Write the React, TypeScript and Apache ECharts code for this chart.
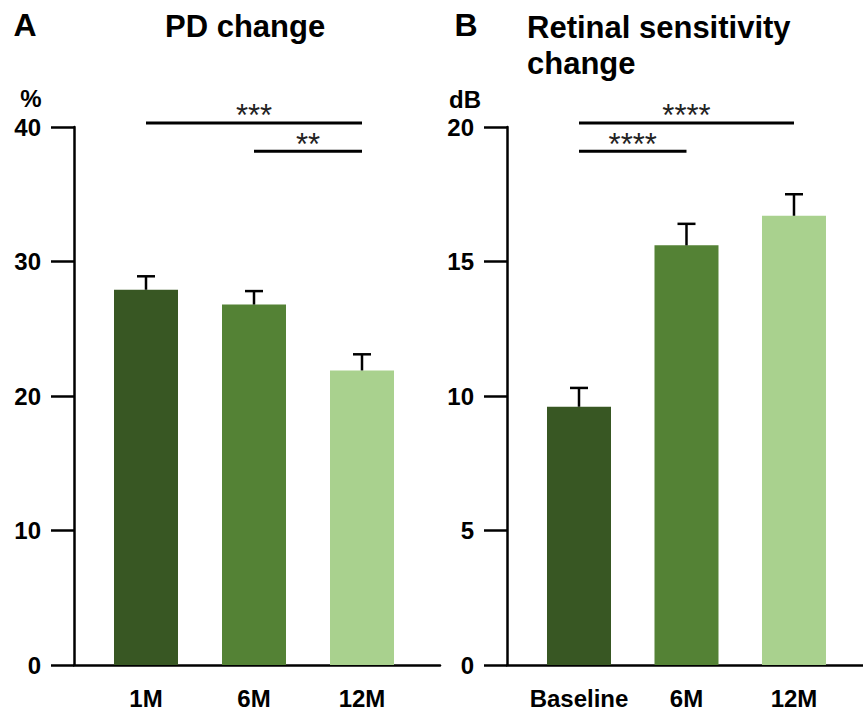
import React, { useEffect, useRef } from "react";
import * as echarts from "echarts";

// ---------- data ----------
const categoriesA = ["1M", "6M", "12M"];
const pdChange = [27.9, 26.8, 21.9];
const pdError = [1.0, 1.0, 1.2];
const yTicksA = [0, 10, 20, 30, 40];

const categoriesB = ["Baseline", "6M", "12M"];
const sensitivity = [9.6, 15.6, 16.7];
const sensitivityError = [0.7, 0.8, 0.8];
const yTicksB = [0, 5, 10, 15, 20];

const bracketFromA = [0, 1];
const bracketToA = [2, 2];
const bracketLevelA = [40.3, 38.2];
const bracketLabelA = ["***", "**"];

const bracketFromB = [0, 0];
const bracketToB = [2, 1];
const bracketLevelB = [20.15, 19.1];
const bracketLabelB = ["****", "****"];

const barColors = ["#385723", "#548235", "#a9d18e"];

// ---------- styling ----------
const FONT = "'Liberation Sans', Arial, Helvetica, sans-serif";
const AXIS_W = 2.5;

function panel(
  idx: number,
  categories: string[],
  values: number[],
  errors: number[],
  ticks: number[],
  bFrom: number[],
  bTo: number[],
  bLevel: number[],
  bLabel: string[]
) {
  const xAxis = {
    type: "value",
    gridIndex: idx,
    min: idx === 0 ? -0.6667 : -0.6698,
    max: idx === 0 ? 2.7222 : 2.642,
    splitLine: { show: false },
    axisTick: { show: false },
    axisLine: { show: true, onZero: false, lineStyle: { color: "#000", width: AXIS_W } },
    axisLabel: {
      customValues: categories.map((_, i) => i),
      formatter: (v: number) => categories[Math.round(v)] ?? "",
      color: "#000",
      fontFamily: FONT,
      fontWeight: "bold",
      fontSize: 24,
      margin: 21,
    },
  };
  const yAxis = {
    type: "value",
    gridIndex: idx,
    min: ticks[0],
    max: ticks[ticks.length - 1],
    interval: ticks[1] - ticks[0],
    splitLine: { show: false },
    axisLine: { show: true, onZero: false, lineStyle: { color: "#000", width: AXIS_W } },
    axisTick: { show: true, inside: false, length: 23, lineStyle: { color: "#000", width: AXIS_W } },
    axisLabel: {
      color: "#000",
      fontFamily: FONT,
      fontWeight: "bold",
      fontSize: 24,
      margin: 33,
    },
  };
  const series = [
    {
      type: "bar",
      xAxisIndex: idx,
      yAxisIndex: idx,
      barWidth: 64,
      data: values.map((v, i) => ({ value: [i, v], itemStyle: { color: barColors[i] } })),
    },
    {
      type: "custom",
      xAxisIndex: idx,
      yAxisIndex: idx,
      clip: false,
      z: 5,
      encode: { x: 0, y: 1 },
      data: values.map((v, i) => [i, v, errors[i]]),
      renderItem: (params: any, api: any) => {
        const x = api.value(0);
        const v = api.value(1);
        const e = api.value(2);
        const p0 = api.coord([x, v]);
        const p1 = api.coord([x, v + e]);
        const st = { stroke: "#000", lineWidth: AXIS_W };
        return {
          type: "group",
          children: [
            { type: "line", shape: { x1: p0[0], y1: p0[1], x2: p1[0], y2: p1[1] }, style: st },
            { type: "line", shape: { x1: p1[0] - 9, y1: p1[1], x2: p1[0] + 9, y2: p1[1] }, style: st },
          ],
        };
      },
    },
    {
      type: "custom",
      xAxisIndex: idx,
      yAxisIndex: idx,
      clip: false,
      z: 5,
      encode: { x: [0, 1], y: 2 },
      data: bFrom.map((f, i) => [f, bTo[i], bLevel[i]]),
      renderItem: (params: any, api: any) => {
        const p0 = api.coord([api.value(0), api.value(2)]);
        const p1 = api.coord([api.value(1), api.value(2)]);
        return {
          type: "group",
          children: [
            {
              type: "line",
              shape: { x1: p0[0], y1: p0[1], x2: p1[0], y2: p1[1] },
              style: { stroke: "#000", lineWidth: 3 },
            },
            {
              type: "text",
              x: (p0[0] + p1[0]) / 2,
              y: p0[1] - 7,
              style: {
                text: bLabel[params.dataIndex],
                fill: "#222",
                font: `normal 31px ${FONT}`,
                textAlign: "center",
                textVerticalAlign: "middle",
              },
            },
          ],
        };
      },
    },
  ];
  return { xAxis, yAxis, series };
}

export default function App() {
  const ref = useRef<HTMLDivElement>(null);

  useEffect(() => {
    document.body.style.margin = "0";
    if (!ref.current) return;
    const chart = echarts.init(ref.current, undefined, { renderer: "svg" });
    const a = panel(0, categoriesA, pdChange, pdError, yTicksA, bracketFromA, bracketToA, bracketLevelA, bracketLabelA);
    const b = panel(1, categoriesB, sensitivity, sensitivityError, yTicksB, bracketFromB, bracketToB, bracketLevelB, bracketLabelB);

    const txt = (text: string, x: number, y: number, size: number, align = "left") => ({
      type: "text",
      x,
      y,
      style: {
        text,
        fill: "#000",
        font: `bold ${size}px ${FONT}`,
        textAlign: align,
        textVerticalAlign: "middle",
      },
    });

    chart.setOption({
      animation: false,
      backgroundColor: "#fff",
      grid: [
        { left: 74, top: 127, width: 366, bottom: 43, containLabel: false },
        { left: 507, top: 127, right: 0, bottom: 43, containLabel: false },
      ],
      xAxis: [a.xAxis, b.xAxis],
      yAxis: [a.yAxis, b.yAxis],
      series: [...a.series, ...b.series],
      graphic: [
        txt("A", 25, 25, 32, "center"),
        txt("PD change", 165, 26, 31),
        txt("B", 466, 25, 32, "center"),
        txt("Retinal sensitivity", 527, 27, 31),
        txt("change", 527, 63, 31),
        txt("%", 31, 98, 24, "center"),
        txt("dB", 465, 99, 24, "center"),
      ],
    });
    return () => chart.dispose();
  }, []);

  return <div ref={ref} style={{ width: 863, height: 710 }} />;
}
